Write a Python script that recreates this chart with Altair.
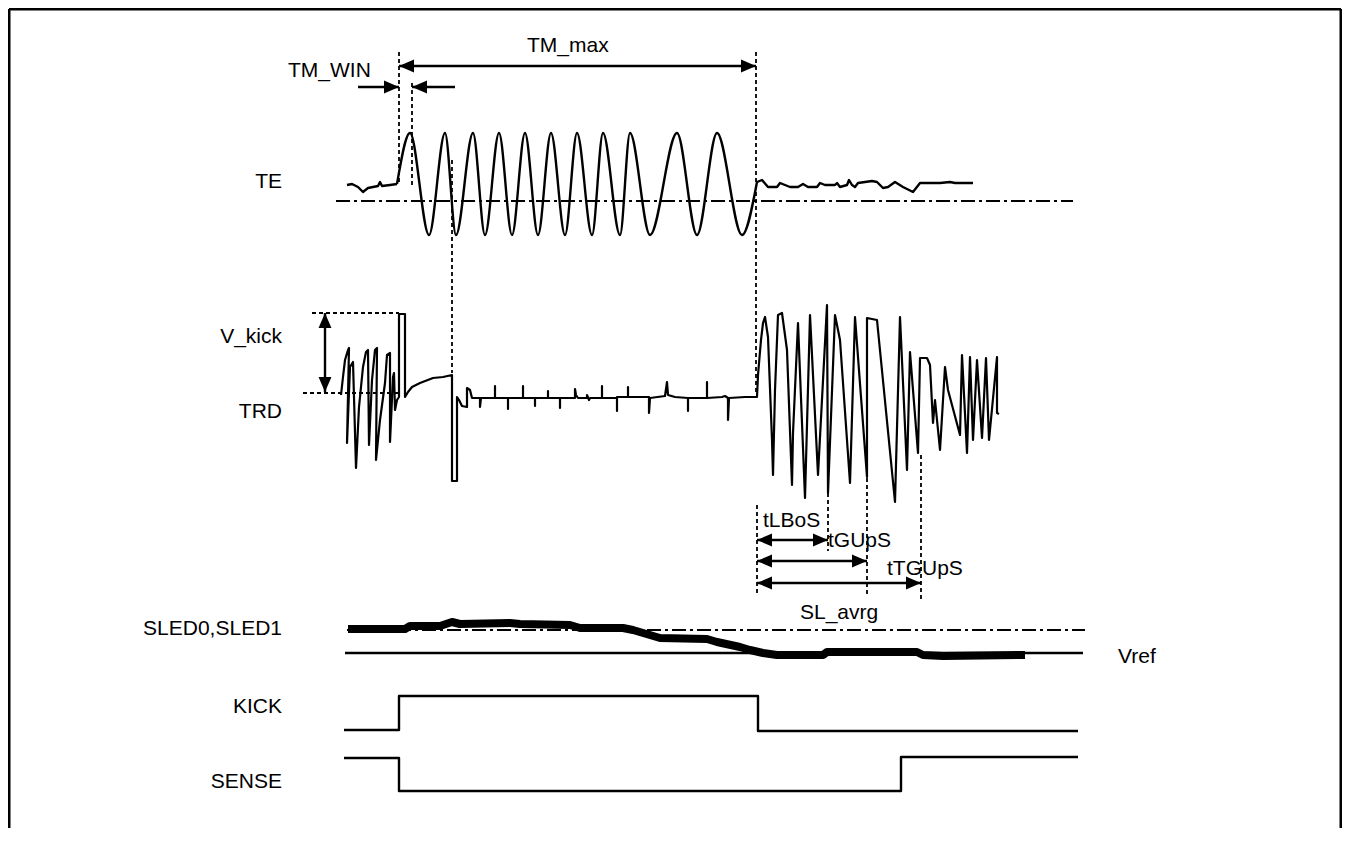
import altair as alt
import pandas as pd

# ---------------- data (page-pixel coordinates) ----------------
# TE trace
te_pre_x = [347, 352, 358, 363, 368, 373, 378, 380, 382, 390, 397]
te_pre_y = [185, 184, 187, 192, 188, 187, 186, 182, 186, 185, 184]
te_wave_x = [397, 410, 429, 445, 456, 473, 485, 499, 512, 525, 538, 551, 565, 577, 592,
             603, 620, 630, 650, 677, 697, 717, 742, 757]
te_wave_y = [184, 133, 235, 133, 235, 133, 235, 133, 235, 133, 235, 133, 235, 133, 235,
             133, 235, 133, 235, 133, 235, 133, 235, 182]
te_post_x = [757, 762, 768, 777, 780, 790, 798, 803, 808, 817, 820, 825, 835, 837, 840,
             847, 849, 852, 855, 858, 872, 877, 883, 888, 895, 903, 913, 920, 940, 950, 955, 973]
te_post_y = [182, 180, 187, 187, 183, 187, 187, 184, 187, 187, 183, 185, 185, 183, 187,
             185, 180, 185, 187, 183, 181, 182, 188, 187, 182, 187, 192, 183, 183, 182, 183, 183]

# TRD trace (drawn in point order)
trd_x = [341, 343, 345, 348, 349, 347, 350, 353, 356, 359, 363, 366, 368, 369, 372, 375, 377,
         376, 380, 385, 387, 390, 390, 393, 394, 395, 397, 399, 399, 405, 405, 408, 412, 420,
         433, 443, 452, 452, 457, 457, 459, 462, 467, 467, 470, 472, 480, 480, 481,
         495, 495, 495, 508, 508, 508, 523, 523, 523, 535, 535, 535, 548, 548, 548,
         560, 560, 560, 575, 575, 576, 578, 587, 587, 589, 590, 602, 602, 602,
         617, 617, 617, 628, 628, 628, 649, 649, 650, 665, 667, 668, 675,
         688, 688, 688, 707, 707, 707, 722, 725, 728, 728, 729, 745, 757,
         758, 761, 763, 765, 768, 772, 773, 775, 778, 782, 787, 792, 793, 798, 805, 810,
         818, 827, 828, 835, 840, 850, 855, 867, 867, 877, 895, 900, 907, 910, 913, 918,
         920, 927, 930, 933, 935, 940, 945, 948, 960, 962, 967, 970, 973, 977, 982, 986,
         989, 997, 997, 999]
trd_y = [395, 377, 360, 350, 348, 443, 367, 362, 468, 407, 367, 352, 350, 445, 380, 350, 348,
         460, 420, 383, 355, 353, 442, 377, 373, 410, 400, 397, 314, 314, 397, 392, 387, 383,
         378, 377, 375, 481, 481, 397, 400, 406, 407, 388, 390, 398, 398, 407, 398,
         398, 386, 398, 398, 409, 398, 398, 386, 398, 398, 406, 398, 398, 391, 398,
         398, 408, 398, 398, 389, 395, 398, 398, 395, 400, 398, 398, 386, 398,
         398, 411, 397, 397, 387, 397, 397, 413, 398, 396, 382, 395, 397,
         398, 411, 398, 398, 382, 398, 397, 396, 398, 420, 398, 397, 397,
         375, 340, 323, 317, 337, 440, 475, 390, 315, 313, 350, 485, 433, 323, 498, 315,
         475, 305, 493, 315, 340, 483, 317, 477, 318, 320, 502, 317, 470, 352, 390, 453,
         358, 358, 365, 423, 400, 450, 367, 390, 435, 355, 453, 357, 440, 360, 438, 358,
         440, 357, 413, 414]

# SLED0,SLED1 (thick trace)
sled_x = [348, 405, 410, 440, 452, 460, 510, 520, 570, 580, 623, 633, 660, 707, 717, 740,
          750, 763, 777, 823, 827, 917, 923, 943, 1025]
sled_y = [629, 629, 626, 626, 622, 624, 623, 624, 625, 628, 628, 630, 638, 639, 642, 647,
          650, 653, 655, 655, 652, 652, 655, 656, 655]

# KICK / SENSE logic levels
kick_x = [344, 399, 399, 758, 758, 1078]
kick_y = [730, 730, 696, 696, 731, 731]
sense_x = [344, 399, 399, 901, 901, 1078]
sense_y = [758, 758, 791, 791, 757, 757]

# dashed guide lines: x1, y1, x2, y2
dash_x1 = [399, 412, 452, 756, 757, 828, 867, 921, 312, 303]
dash_y1 = [52, 83, 160, 52, 505, 493, 450, 455, 313, 393]
dash_x2 = [399, 412, 452, 756, 757, 828, 867, 921, 399, 400]
dash_y2 = [185, 185, 373, 395, 595, 551, 595, 600, 313, 393]

# dash-dot reference levels
dd_x1 = [336, 347]
dd_x2 = [1073, 1085]
dd_y = [201, 630]

# solid lines (Vref, frame)
solid_x1 = [345]
solid_y1 = [653]
solid_x2 = [1083]
solid_y2 = [653]
frame_x1 = [9, 9, 1341]
frame_y1 = [9, 9, 9]
frame_x2 = [1341, 9, 1341]
frame_y2 = [9, 840, 840]

# dimension arrows: x1, y1, x2, y2, head at start, head at end
arr_x1 = [399, 358, 455, 325, 757, 757, 757]
arr_y1 = [66, 87, 87, 313, 540, 561, 583]
arr_x2 = [756, 399, 412, 325, 828, 867, 921]
arr_y2 = [66, 87, 87, 392, 540, 561, 583]
arr_h1 = [True, False, False, True, True, True, True]
arr_h2 = [True, True, True, True, True, True, True]

# signal labels (right aligned)
sig_labels = ["TE", "V_kick", "TRD", "SLED0,SLED1", "KICK", "SENSE"]
sig_label_y = [188, 343, 418, 635, 713, 788]
SIG_LABEL_X = 282

# annotation labels (left aligned)
ann_labels = ["TM_WIN", "TM_max", "tLBoS", "tGUpS", "tTGUpS", "SL_avrg", "Vref"]
ann_x = [288, 527, 763, 828, 887, 800, 1118]
ann_y = [77, 52, 527, 547, 575, 619, 663]

# ---------------- chart ----------------
W, H = 1334, 820
XS = alt.Scale(domain=[8, 8 + W], nice=False, zero=False)
YS = alt.Scale(domain=[8 + H, 8], nice=False, zero=False)
FONT = "Arial, Liberation Sans, sans-serif"


def X(f="x"):
    return alt.X(f"{f}:Q", scale=XS, axis=None)


def Y(f="y"):
    return alt.Y(f"{f}:Q", scale=YS, axis=None)


def trace(xs, ys, width=2.0, interp="linear"):
    df = pd.DataFrame({"x": xs, "y": ys, "i": range(len(xs))})
    return alt.Chart(df).mark_line(color="black", strokeWidth=width, interpolate=interp,
                                   strokeJoin="round").encode(
        x=X(), y=Y(), order=alt.Order("i:Q"))


def rules(x1, y1, x2, y2, width, dash=None):
    df = pd.DataFrame({"x": x1, "y": y1, "x2": x2, "y2": y2})
    kw = dict(color="black", strokeWidth=width)
    if dash:
        kw["strokeDash"] = dash
    return alt.Chart(df).mark_rule(**kw).encode(
        x=X(), y=Y(), x2=alt.X2("x2:Q"), y2=alt.Y2("y2:Q"))


layers = []
layers.append(rules(frame_x1, frame_y1, frame_x2, frame_y2, 3.0))
layers.append(rules(solid_x1, solid_y1, solid_x2, solid_y2, 2.4))
layers.append(rules(dash_x1, dash_y1, dash_x2, dash_y2, 1.8, [4, 3]))
layers.append(rules(dd_x1, dd_y, dd_x2, dd_y, 2.0, [14, 4, 3, 4]))

layers.append(trace(te_pre_x, te_pre_y, 2.4))
layers.append(trace(te_wave_x, te_wave_y, 2.4, "monotone"))
layers.append(trace(te_post_x, te_post_y, 2.4))
layers.append(trace(trd_x, trd_y, 2.2))
layers.append(trace(sled_x, sled_y, 8.0))
layers.append(trace(kick_x, kick_y, 2.4))
layers.append(trace(sense_x, sense_y, 2.4))

# arrows: shafts
layers.append(rules(arr_x1, arr_y1, arr_x2, arr_y2, 2.4))

# arrow heads (tip at the end point)
heads = []
for x1, y1, x2, y2, h1, h2 in zip(arr_x1, arr_y1, arr_x2, arr_y2, arr_h1, arr_h2):
    if y1 == y2:
        d_start, d_end = ("l", "r") if x2 > x1 else ("r", "l")
    else:
        d_start, d_end = ("u", "d") if y2 > y1 else ("d", "u")
    if h1:
        heads.append({"x": x1, "y": y1, "d": d_start})
    if h2:
        heads.append({"x": x2, "y": y2, "d": d_end})
heads_df = pd.DataFrame(heads)
paths = {
    "r": "M0,0L-1,-0.43L-1,0.43Z",
    "l": "M0,0L1,-0.43L1,0.43Z",
    "u": "M0,0L-0.43,1L0.43,1Z",
    "d": "M0,0L-0.43,-1L0.43,-1Z",
}
layers.append(alt.Chart(heads_df).mark_point(filled=True, size=900, color="black",
                                             strokeWidth=0, opacity=1).encode(
    x=X(), y=Y(),
    shape=alt.Shape("d:N", scale=alt.Scale(domain=list(paths.keys()),
                                           range=list(paths.values())), legend=None)))

# labels
sig_df = pd.DataFrame({"t": sig_labels, "y": sig_label_y, "x": [SIG_LABEL_X] * len(sig_labels)})
layers.append(alt.Chart(sig_df).mark_text(align="right", baseline="alphabetic", fontSize=21,
                                          font=FONT, color="black").encode(
    x=X(), y=Y(), text="t:N"))
ann_df = pd.DataFrame({"t": ann_labels, "x": ann_x, "y": ann_y})
layers.append(alt.Chart(ann_df).mark_text(align="left", baseline="alphabetic", fontSize=21,
                                          font=FONT, color="black").encode(
    x=X(), y=Y(), text="t:N"))

chart = alt.layer(*layers).properties(
    width=W, height=H, padding=0, autosize="none", background="white"
).configure_view(stroke=None)

chart.save("out.html", embed_options={"renderer": "svg", "actions": False})
